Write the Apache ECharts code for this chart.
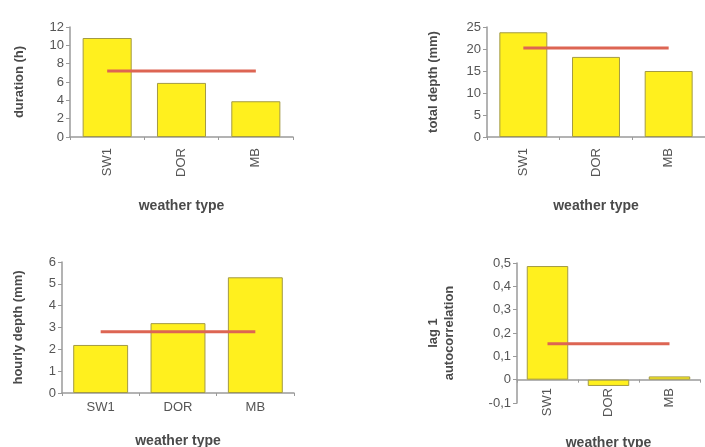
<!DOCTYPE html>
<html>
<head>
<meta charset="utf-8">
<script src="https://cdn.jsdelivr.net/npm/echarts@6/dist/echarts.min.js"></script>
<style>
  html, body { margin: 0; padding: 0; background: #fff; }
  #chart { width: 705px; height: 447px; }
</style>
</head>
<body>
<div id="chart"></div>
<script>
const types = ['SW1', 'DOR', 'MB'];

const duration = [10.8, 5.9, 3.9];
const durationMean = 7.2;
const totalDepth = [23.8, 18.2, 15.0];
const totalDepthMean = 20.2;
const hourlyDepth = [2.2, 3.2, 5.3];
const hourlyDepthMean = 2.8;
const lagCorr = [0.487, -0.027, 0.014];
const lagCorrMean = 0.154;

const FONT = 'Liberation Sans, Arial, sans-serif';
const INK = '#555';
const AXIS = '#9a9a9a';
const BAR = '#fff01e';
const BAR_EDGE = '#a39a45';
const RED = '#dd6553';

const chart = echarts.init(document.getElementById('chart'));

function xAx(grid, rotate, nameGap, margin) {
  return {
    type: 'category', gridIndex: grid, data: types,
    name: 'weather type', nameLocation: 'middle', nameGap,
    nameTextStyle: { fontFamily: FONT, fontWeight: 'bold', fontSize: 14, color: '#4a4a4a' },
    axisLine: { lineStyle: { color: AXIS, width: 1.5 } },
    axisTick: { show: true, length: 3, lineStyle: { color: AXIS } },
    axisLabel: { rotate, interval: 0, margin, fontFamily: FONT, fontSize: 13, color: INK },
  };
}

function yAx(grid, name, min, max, interval, nameGap, fmt) {
  return {
    type: 'value', gridIndex: grid, min, max, interval,
    name, nameLocation: 'middle', nameGap,
    nameTextStyle: { fontFamily: FONT, fontWeight: 'bold', fontSize: 13, color: '#4a4a4a', lineHeight: 16 },
    axisLine: { show: true, lineStyle: { color: AXIS, width: 1.5 } },
    axisTick: { show: true, length: 4, lineStyle: { color: AXIS } },
    splitLine: { show: false },
    axisLabel: { margin: 6, fontFamily: FONT, fontSize: 13, color: INK, formatter: fmt },
  };
}

function bars(i, data, gap) {
  return {
    type: 'bar', xAxisIndex: i, yAxisIndex: i, data, barCategoryGap: gap,
    itemStyle: { color: BAR, borderColor: BAR_EDGE, borderWidth: 1 },
    silent: true,
  };
}

function mean(i, value) {
  return {
    type: 'line', xAxisIndex: i, yAxisIndex: i, data: types.map(() => value),
    symbol: 'none', lineStyle: { color: RED, width: 3 }, silent: true, z: 5,
  };
}

const comma = v => v === 0 ? '0' : v.toFixed(1).replace('.', ',');

chart.setOption({
  backgroundColor: '#fff',
  animation: false,
  grid: [
    { left: 70, right: 412, top: 27, bottom: 310, outerBoundsMode: 'none' },
    { left: 487, right: 0, top: 27, bottom: 310, outerBoundsMode: 'none' },
    { left: 62, right: 411, top: 262, bottom: 54, outerBoundsMode: 'none' },
    { left: 517, right: 5, top: 263, bottom: 44, outerBoundsMode: 'none' },
  ],
  xAxis: [
    xAx(0, 90, 62, 11),
    xAx(1, 90, 62, 11),
    xAx(2, 0, 41, 8),
    xAx(3, 90, 33, -15),
  ],
  yAxis: [
    yAx(0, 'duration (h)', 0, 12, 2, 43),
    yAx(1, 'total depth (mm)', 0, 25, 5, 46),
    yAx(2, 'hourly depth (mm)', 0, 6, 1, 36),
    yAx(3, 'lag 1\nautocorrelation', -0.1, 0.5, 0.1, 60, comma),
  ],
  series: [
    bars(0, duration, '34%'), mean(0, durationMean),
    bars(1, totalDepth, '34%'), mean(1, totalDepthMean),
    bars(2, hourlyDepth, '29%'), mean(2, hourlyDepthMean),
    bars(3, lagCorr, '32%'), mean(3, lagCorrMean),
  ],
});
</script>
</body>
</html>
